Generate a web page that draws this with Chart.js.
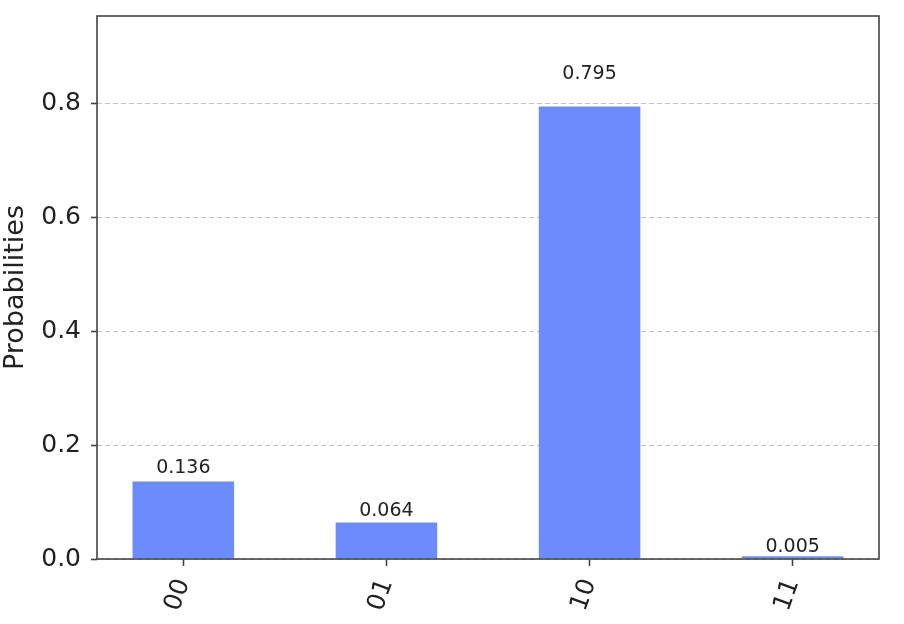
<!DOCTYPE html>
<html>
<head>
<meta charset="utf-8">
<script src="https://cdn.jsdelivr.net/npm/chart.js@4/dist/chart.umd.min.js"></script>
<style>
  html, body { margin: 0; padding: 0; background: #fff; }
  #wrap { width: 904px; height: 624px; }
</style>
</head>
<body>
<div id="wrap"><canvas id="myChart" width="904" height="624"></canvas></div>
<script>
// Measured outcomes and their probabilities
var categories = ['00', '01', '10', '11'];
var probabilities = [0.136, 0.064, 0.795, 0.005];
var yTicks = [0.0, 0.2, 0.4, 0.6, 0.8];

var barColor = '#6b8cfa';
var axisColor = '#444';
var font = "'DejaVu Sans', sans-serif";

// Draws the full box around the plot area
var frameBox = {
    id: 'frameBox',
    afterDraw: function (chart) {
        var a = chart.chartArea, ctx = chart.ctx;
        ctx.save();
        ctx.strokeStyle = axisColor;
        ctx.lineWidth = 1.6;
        ctx.strokeRect(a.left, a.top, a.right - a.left, a.bottom - a.top);
        ctx.restore();
    }
};

// Value labels above each bar (placed at 1.05 * height like the original)
var barLabels = {
    id: 'barLabels',
    afterDatasetsDraw: function (chart) {
        var ctx = chart.ctx;
        var meta = chart.getDatasetMeta(0);
        var yScale = chart.scales.y;
        ctx.save();
        ctx.font = '19px ' + font;
        ctx.fillStyle = '#222';
        ctx.textAlign = 'center';
        ctx.textBaseline = 'alphabetic';
        meta.data.forEach(function (bar, i) {
            var v = probabilities[i];
            var y = yScale.getPixelForValue(v * 1.05) - 4.5;
            ctx.fillText(v.toFixed(3), bar.x, y);
        });
        ctx.restore();
    }
};

var ctx = document.getElementById('myChart').getContext('2d');
var myChart = new Chart(ctx, {
    type: 'bar',
    data: {
        datasets: [{
            label: 'Probabilities',
            data: probabilities.map(function (p, i) { return { x: i, y: p }; }),
            backgroundColor: barColor,
            borderWidth: 0,
            barPercentage: 0.5,
            categoryPercentage: 1.0
        }]
    },
    options: {
        responsive: false,
        animation: false,
        layout: { padding: { top: 16, right: 25, left: 0, bottom: 0 } },
        plugins: {
            legend: { display: false },
            tooltip: { enabled: false }
        },
        scales: {
            x: {
                type: 'linear',
                min: -0.425,
                max: 3.425,
                offset: false,
                afterBuildTicks: function (scale) {
                    scale.ticks = categories.map(function (c, i) { return { value: i }; });
                },
                afterFit: function (scale) {
                    scale.height = 65;
                    scale.paddingLeft = 0;
                    scale.paddingRight = 0;
                },
                grid: {
                    offset: false,
                    drawOnChartArea: false,
                    drawTicks: true,
                    tickLength: 7,
                    tickWidth: 1.6,
                    tickColor: axisColor
                },
                border: { display: false },
                ticks: {
                    autoSkip: false,
                    minRotation: 70,
                    maxRotation: 70,
                    padding: 9,
                    color: '#222',
                    font: { family: font, size: 25 },
                    callback: function (v) { return categories[v]; }
                }
            },
            y: {
                min: 0,
                max: 0.954,
                afterBuildTicks: function (scale) {
                    scale.ticks = yTicks.map(function (t) { return { value: t }; });
                },
                afterFit: function (scale) {
                    scale.width = 97;
                    scale.paddingTop = 0;
                    scale.paddingBottom = 0;
                },
                grid: {
                    color: '#c4c4c4',
                    lineWidth: 1,
                    drawTicks: true,
                    tickLength: 6,
                    tickWidth: 1.6,
                    tickColor: axisColor,
                    tickBorderDash: []
                },
                border: { display: false, dash: [5, 3] },
                ticks: {
                    padding: 10,
                    color: '#222',
                    font: { family: font, size: 25 },
                    callback: function (v) { return v.toFixed(1); }
                },
                title: {
                    display: true,
                    text: 'Probabilities',
                    color: '#222',
                    padding: 0,
                    font: { family: font, size: 27 }
                }
            }
        }
    },
    plugins: [frameBox, barLabels]
});
</script>
</body>
</html>
